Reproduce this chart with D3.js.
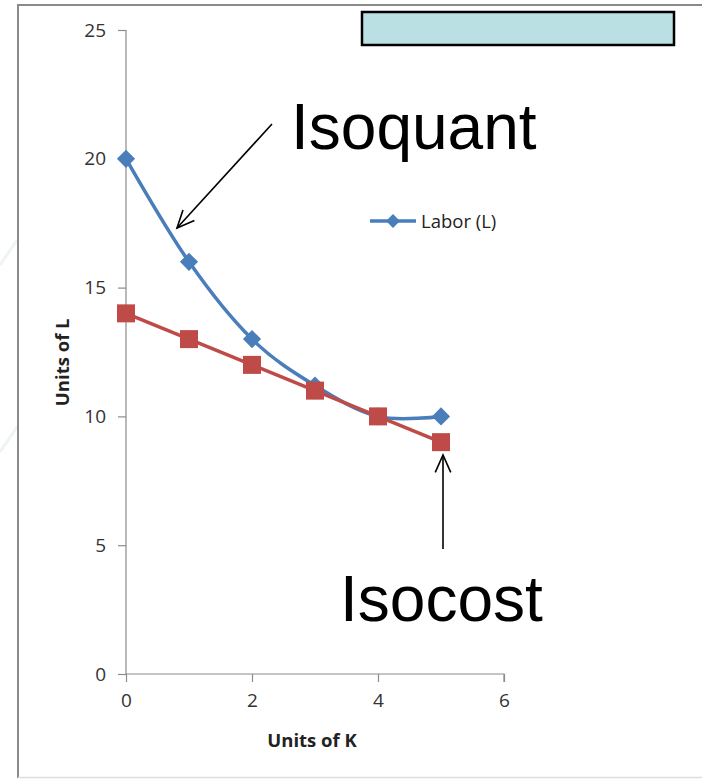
<!DOCTYPE html>
<html>
<head>
<meta charset="utf-8">
<script src="https://cdn.jsdelivr.net/npm/d3@7"></script>
<style>
  body { margin: 0; background: #fff; }
  svg { display: block; }
</style>
</head>
<body>
<svg></svg>
<script>
// data
const unitsK = [0, 1, 2, 3, 4, 5];
const isoquantL = [20, 16, 13, 11.2, 10, 10];
const isocostL = [14, 13, 12, 11, 10, 9];
const xTicks = [0, 2, 4, 6];
const yTicks = [0, 5, 10, 15, 20, 25];
const seriesName = "Labor (L)";

const outerWidth = 702;
const outerHeight = 779;
const margin = { top: 30, right: 198, bottom: 105, left: 126 };
const width = outerWidth - margin.left - margin.right;
const height = outerHeight - margin.top - margin.bottom;

const blue = "#4a7ebb";
const red = "#be4b48";
const font = "'Open Sans', 'Noto Sans', sans-serif";

const svg = d3.select("svg")
  .attr("width", outerWidth)
  .attr("height", outerHeight);

// slide frame and faint background
svg.append("line").attr("x1", 0).attr("y1", 265).attr("x2", 17).attr("y2", 240)
  .style("stroke", "#eef4f1").style("stroke-width", 3);
svg.append("line").attr("x1", 0).attr("y1", 452).attr("x2", 17).attr("y2", 427)
  .style("stroke", "#eef4f1").style("stroke-width", 3);

svg.append("line").attr("x1", 18).attr("y1", 5).attr("x2", outerWidth).attr("y2", 5)
  .style("stroke", "#8a8a8a").style("stroke-width", 2);
svg.append("line").attr("x1", 18).attr("y1", 4).attr("x2", 18).attr("y2", 778)
  .style("stroke", "#8a8a8a").style("stroke-width", 2);
svg.append("line").attr("x1", 18).attr("y1", 777.5).attr("x2", outerWidth).attr("y2", 777.5)
  .style("stroke", "#dddddd").style("stroke-width", 1.5);

const g = svg.append("g")
  .attr("transform", `translate(${margin.left}, ${margin.top})`);

// scales
const x = d3.scaleLinear().domain([0, 6]).range([0, width]);
const y = d3.scaleLinear().domain([0, 25]).range([height, 0]);

// axes
const xAxis = g.append("g")
  .attr("transform", `translate(0, ${height})`)
  .call(d3.axisBottom(x).tickValues(xTicks).tickSize(8).tickPadding(10).tickFormat(d3.format("d")));
const yAxis = g.append("g")
  .call(d3.axisLeft(y).tickValues(yTicks).tickSize(8).tickPadding(12).tickFormat(d3.format("d")));

[xAxis, yAxis].forEach(a => {
  a.attr("font-family", null).attr("font-size", null);
  a.select(".domain").style("stroke", "#8c8c8c").style("stroke-width", 1.2);
  a.selectAll(".tick line").style("stroke", "#8c8c8c").style("stroke-width", 1.2);
  a.selectAll(".tick text")
    .style("font-family", font)
    .style("font-size", "19px")
    .style("fill", "#333");
});
yAxis.select(".domain").attr("d", `M0,${height}V0.5H-8`);
xAxis.select(".domain").attr("d", `M0,0H${width}V8`);
xAxis.selectAll(".tick text").attr("dy", "0.8em");

g.append("text")
  .attr("x", x(3) - 3)
  .attr("y", height + 73)
  .attr("text-anchor", "middle")
  .style("font-family", font)
  .style("font-weight", "bold")
  .style("font-size", "18.5px")
  .style("fill", "#222")
  .text("Units of K");

g.append("text")
  .attr("transform", `translate(-57, ${y(12.1)}) rotate(-90)`)
  .attr("text-anchor", "middle")
  .style("font-family", font)
  .style("font-weight", "bold")
  .style("font-size", "18.5px")
  .style("fill", "#222")
  .text("Units of L");

// lines
const isoquant = unitsK.map((k, i) => ({ k, l: isoquantL[i] }));
const isocost = unitsK.map((k, i) => ({ k, l: isocostL[i] }));

const smooth = d3.line()
  .x(d => x(d.k))
  .y(d => y(d.l))
  .curve(d3.curveCardinal.tension(0));
const straight = d3.line()
  .x(d => x(d.k))
  .y(d => y(d.l));

g.append("path")
  .datum(isoquant)
  .attr("d", smooth)
  .style("fill", "none")
  .style("stroke", blue)
  .style("stroke-width", 3.5);

g.append("path")
  .datum(isocost)
  .attr("d", straight)
  .style("fill", "none")
  .style("stroke", red)
  .style("stroke-width", 3.5);

const diamond = d3.symbol().type(d3.symbolSquare).size(165);
g.selectAll(".diamond")
  .data(isoquant)
  .enter()
  .append("path")
  .attr("class", "diamond")
  .attr("d", diamond)
  .attr("transform", d => `translate(${x(d.k)}, ${y(d.l)}) rotate(45)`)
  .style("fill", blue);

g.selectAll(".square")
  .data(isocost)
  .enter()
  .append("rect")
  .attr("class", "square")
  .attr("x", d => x(d.k) - 9)
  .attr("y", d => y(d.l) - 9)
  .attr("width", 18)
  .attr("height", 18)
  .style("fill", red);

// legend
const legend = svg.append("g").attr("transform", "translate(370, 221)");
legend.append("line").attr("x1", 0).attr("x2", 46).attr("y1", 0).attr("y2", 0)
  .style("stroke", blue).style("stroke-width", 3.5);
legend.append("path")
  .attr("d", d3.symbol().type(d3.symbolSquare).size(95))
  .attr("transform", "translate(23, 0) rotate(45)")
  .style("fill", blue);
legend.append("text")
  .attr("x", 51)
  .attr("y", 7)
  .style("font-family", font)
  .style("font-size", "18.5px")
  .style("fill", "#222")
  .text(seriesName);

// blank title box
svg.append("rect")
  .attr("x", 362).attr("y", 12)
  .attr("width", 312).attr("height", 33)
  .style("fill", "#bbe0e3")
  .style("stroke", "#000")
  .style("stroke-width", 2.5);

// annotations
const annot = svg.append("g")
  .style("font-family", "'Liberation Sans', Arial, sans-serif")
  .style("font-size", "64px")
  .style("fill", "#000");
annot.append("text").attr("x", 291).attr("y", 149).text("Isoquant");
annot.append("text").attr("x", 340).attr("y", 621).text("Isocost");

function arrow(x1, y1, x2, y2) {
  const a = Math.atan2(y2 - y1, x2 - x1);
  const len = 19, spread = 0.42;
  const p1 = [x2 - len * Math.cos(a - spread), y2 - len * Math.sin(a - spread)];
  const p2 = [x2 - len * Math.cos(a + spread), y2 - len * Math.sin(a + spread)];
  svg.append("line").attr("x1", x1).attr("y1", y1).attr("x2", x2).attr("y2", y2)
    .style("stroke", "#000").style("stroke-width", 1.6);
  svg.append("path")
    .attr("d", `M${p1[0]},${p1[1]}L${x2},${y2}L${p2[0]},${p2[1]}`)
    .style("fill", "none").style("stroke", "#000").style("stroke-width", 1.6);
}
arrow(272, 124, 177, 228);
arrow(443, 549, 443, 455);
</script>
</body>
</html>
